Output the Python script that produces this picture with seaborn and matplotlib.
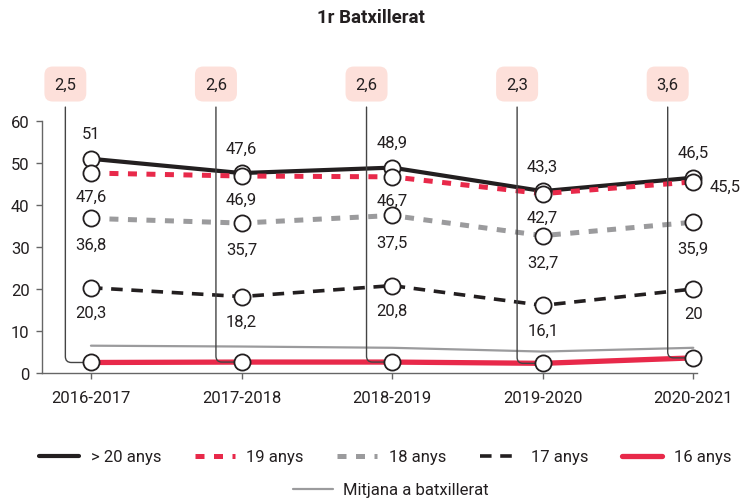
import numpy as np
import pandas as pd
import matplotlib
matplotlib.use('Agg')
import matplotlib.pyplot as plt
import seaborn as sns
from matplotlib.lines import Line2D

# dades llegides del grafic
cursos = ['2016-2017', '2017-2018', '2018-2019', '2019-2020', '2020-2021']
mes20 = [51, 47.6, 48.9, 43.3, 46.5]
anys19 = [47.6, 46.9, 46.7, 42.7, 45.5]
anys18 = [36.8, 35.7, 37.5, 32.7, 35.9]
anys17 = [20.3, 18.2, 20.8, 16.1, 20]
anys16 = [2.5, 2.6, 2.6, 2.3, 3.6]
mitjana = [6.5, 6.3, 6.0, 5.1, 6.0]

noms = ['> 20 anys', '19 anys', '18 anys', '17 anys', '16 anys']

NEGRE = '#231f20'
VERMELL = '#e8294a'
GRIS = '#9b9b9d'
FS = 12

sns.set_style('white')
plt.rcParams['font.family'] = ['Roboto', 'DejaVu Sans']

fig = plt.figure(figsize=(7.41, 5.02), dpi=100)
ax = fig.add_axes([0.0567, 0.255, 0.884, 0.502])

x = np.arange(len(cursos))

estils = [
    (mes20, NEGRE, 3.0, '-'),
    (anys19, VERMELL, 3.6, (0, (1.8, 1.9))),
    (anys18, GRIS, 3.6, (0, (1.8, 1.9))),
    (anys17, NEGRE, 2.6, (0, (3.2, 2.4))),
    (anys16, VERMELL, 3.8, '-'),
]

sns.lineplot(x=x, y=mitjana, color=GRIS, linewidth=1.6, ax=ax, zorder=2)
for vals, col, lw, ls in estils:
    sns.lineplot(x=x, y=vals, color=col, linewidth=lw, linestyle=ls, ax=ax, zorder=3)

# cercles blancs
punts = pd.DataFrame({
    'x': np.tile(x, 5),
    'y': mes20 + anys19 + anys18 + anys17 + anys16,
})
sns.scatterplot(data=punts, x='x', y='y', s=135, color='white', edgecolor=NEGRE,
                linewidth=1.3, ax=ax, zorder=6, clip_on=False, legend=False)

def fmt(v):
    return ('%g' % v).replace('.', ',')

# etiquetes
for i in range(5):
    ax.annotate(fmt(mes20[i]), (x[i], mes20[i]), xytext=(0, 18), textcoords='offset points',
                ha='center', va='center', fontsize=FS, color=NEGRE)
    if i < 4:
        ax.annotate(fmt(anys19[i]), (x[i], anys19[i]), xytext=(0, -17), textcoords='offset points',
                    ha='center', va='center', fontsize=FS, color=NEGRE)
    else:
        ax.annotate(fmt(anys19[i]), (x[i], anys19[i]), xytext=(23, -3), textcoords='offset points',
                    ha='center', va='center', fontsize=FS, color=NEGRE)
    ax.annotate(fmt(anys18[i]), (x[i], anys18[i]), xytext=(0, -19), textcoords='offset points',
                ha='center', va='center', fontsize=FS, color=NEGRE)
    ax.annotate(fmt(anys17[i]), (x[i], anys17[i]), xytext=(0, -18), textcoords='offset points',
                ha='center', va='center', fontsize=FS, color=NEGRE)
    # caixes de 16 anys
    ax.annotate(fmt(anys16[i]), xy=(x[i], anys16[i]), xytext=(x[i] - 0.17, 68.8),
                textcoords='data', ha='center', va='center', fontsize=FS, color=NEGRE,
                annotation_clip=False, zorder=4,
                bbox=dict(boxstyle='round,pad=0.6,rounding_size=0.5', fc='#fde0da', ec='none'),
                arrowprops=dict(arrowstyle='-', color='#444444', lw=1.0, shrinkA=4, shrinkB=0,
                                connectionstyle='angle,angleA=90,angleB=0,rad=6'))

ax.set_xlim(-0.325, 4.025)
ax.set_ylim(0, 60)
ax.set_yticks(range(0, 61, 10))
ax.set_xticks(x)
ax.set_xticklabels(cursos)
ax.set_xlabel('')
ax.set_ylabel('')
for s in ['top', 'right']:
    ax.spines[s].set_visible(False)
for s in ['left', 'bottom']:
    ax.spines[s].set_color('#666666')
    ax.spines[s].set_linewidth(1.0)
ax.tick_params(axis='both', which='both', length=4, width=1, color='#666666',
               labelsize=FS, labelcolor=NEGRE, bottom=True, left=True)
ax.tick_params(axis='x', pad=8)
ax.tick_params(axis='y', pad=5)

fig.text(0.5, 1 - 18 / 502, '1r Batxillerat', ha='center', va='center',
         fontsize=13.5, fontweight='bold', color=NEGRE)

handles = [Line2D([], [], color=col, linewidth=lw, linestyle=ls) for _, col, lw, ls in estils]
fig.legend(handles, noms, loc='center', bbox_to_anchor=(0.52, 1 - 458 / 502), ncol=5,
           frameon=False, fontsize=FS, handlelength=2.4, handletextpad=0.7,
           columnspacing=2.0, labelcolor=NEGRE)
fig.legend([Line2D([], [], color=GRIS, linewidth=1.6)], ['Mitjana a batxillerat'],
           loc='center', bbox_to_anchor=(0.528, 1 - 491 / 502), frameon=False,
           fontsize=FS, handlelength=2.4, handletextpad=0.6, labelcolor=NEGRE)

fig.savefig('out.png', dpi=100)
